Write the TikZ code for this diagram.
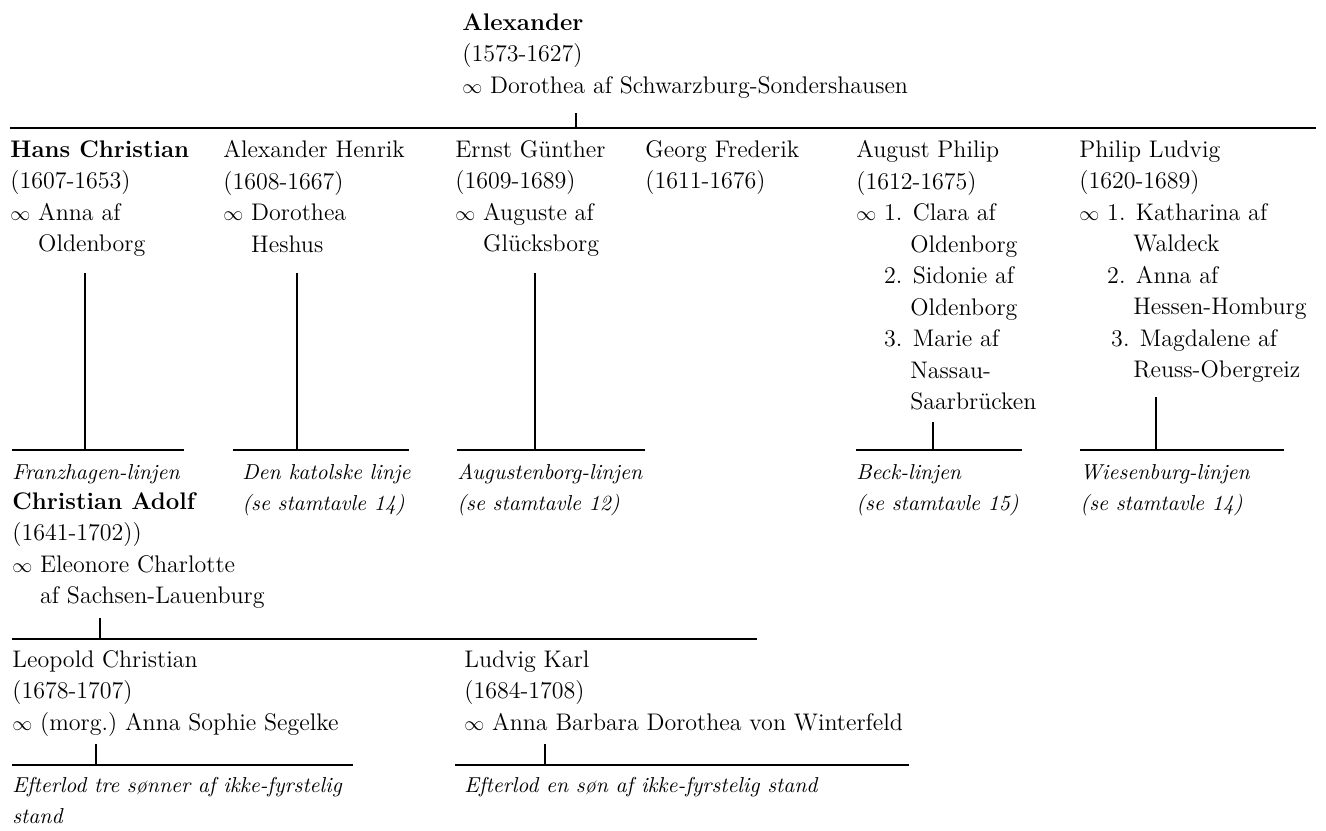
\documentclass[tikz,border=0pt]{standalone}
\usetikzlibrary{positioning}
\newcommand{\mrg}{{\fontsize{10}{10}\selectfont$\infty$}\ }
\newcommand{\mrgind}{\hphantom{\mrg}}
\newcommand{\mrgnum}{\hphantom{\mrg 1.\ }}
\begin{document}
\begin{tikzpicture}[x=0.5pt, y=-0.5pt,
person/.style={anchor=north west, inner sep=0pt, align=left, font=\fontsize{12}{15.75}\selectfont},
branch/.style={anchor=north west, inner sep=0pt, align=left, font=\fontsize{10.8}{15.5}\selectfont\itshape},
bar/.style={line width=1.4pt},
drop/.style={line width=0.9pt}]
\useasboundingbox (0,0) rectangle (1326,830);
\node (A) [person] at (462,13) {\textbf{Alexander}\\(1573-1627)\\\mrg Dorothea af Schwarzburg-Sondershausen};
\node (HC) [person] at (10,140) {\textbf{Hans Christian}\\(1607-1653)\\\mrg Anna af\\\mrgind Oldenborg};
\node (AH) [person] at (223,140) {Alexander Henrik\\(1608-1667)\\\mrg Dorothea\\\mrgind Heshus};
\node (EG) [person] at (455,140) {Ernst Günther\\(1609-1689)\\\mrg Auguste af\\\mrgind Glücksborg};
\node (GF) [person] at (645,140) {Georg Frederik\\(1611-1676)};
\node (AP) [person] at (856,140) {August Philip\\(1612-1675)\\\mrg 1. Clara af\\\mrgnum Oldenborg\\\mrgind 2. Sidonie af\\\mrgnum Oldenborg\\\mrgind 3. Marie af\\\mrgnum Nassau-\\\mrgnum Saarbrücken};
\node (PL) [person] at (1079,140) {Philip Ludvig\\(1620-1689)\\\mrg 1. Katharina af\\\mrgnum Waldeck\\\mrgind 2. Anna af\\\mrgnum Hessen-Homburg\\\mrgind\hspace{2pt}3. Magdalene af\\\mrgnum Reuss-Obergreiz};
\node (F) [branch] at (12,464) {Franzhagen-linjen};
\node (CA) [person] at (12,492) {\textbf{Christian Adolf}\\(1641-1702))\\\mrg Eleonore Charlotte\\\mrgind af Sachsen-Lauenburg};
\node (DK) [branch] at (242,464) {Den katolske linje\\(se stamtavle 14)};
\node (AU) [branch] at (457,464) {Augustenborg-linjen\\(se stamtavle 12)};
\node (BL) [branch] at (856,464) {Beck-linjen\\(se stamtavle 15)};
\node (WL) [branch] at (1080,464) {Wiesenburg-linjen\\(se stamtavle 14)};
\node (LC) [person] at (12,650) {Leopold Christian\\(1678-1707)\\\mrg (morg.)\ Anna Sophie Segelke};
\node (LK) [person] at (464,650) {Ludvig Karl\\(1684-1708)\\\mrg Anna Barbara Dorothea von Winterfeld};
\node (E1) [branch] at (12,777) {Efterlod tre sønner af ikke-fyrstelig\\stand};
\node (E2) [branch] at (464,777) {Efterlod en søn af ikke-fyrstelig stand};
\coordinate (T1) at (10,128); \coordinate (T2) at (1316,128); \coordinate (TS) at (576,113);
\draw[bar] (T1) -- (T2);
\draw[drop] (TS) -- (TS |- T1);
\coordinate (F1) at (12,450); \coordinate (F2) at (184,450);
\coordinate (K1) at (233,450); \coordinate (K2) at (409,450);
\coordinate (U1) at (457,450); \coordinate (U2) at (645,450);
\coordinate (B1) at (856,450); \coordinate (B2) at (1022,450);
\coordinate (W1) at (1080,450); \coordinate (W2) at (1284,450);
\draw[bar] (F1) -- (F2);
\draw[bar] (K1) -- (K2);
\draw[bar] (U1) -- (U2);
\draw[bar] (B1) -- (B2);
\draw[bar] (W1) -- (W2);
\coordinate (HCd) at (85,273); \coordinate (AHd) at (297,273); \coordinate (EGd) at (535,273);
\coordinate (APd) at (933,422); \coordinate (PLd) at (1156,397);
\draw[drop] (HCd) -- (HCd |- F1);
\draw[drop] (AHd) -- (AHd |- K1);
\draw[drop] (EGd) -- (EGd |- U1);
\draw[drop] (APd) -- (APd |- B1);
\draw[drop] (PLd) -- (PLd |- W1);
\coordinate (C1) at (12,639); \coordinate (C2) at (757,639); \coordinate (CAd) at (100,618);
\draw[bar] (C1) -- (C2);
\draw[drop] (CAd) -- (CAd |- C1);
\coordinate (L1) at (12,765); \coordinate (L2) at (353,765); \coordinate (LCd) at (96,744);
\coordinate (M1) at (455,765); \coordinate (M2) at (909,765); \coordinate (LKd) at (545,744);
\draw[bar] (L1) -- (L2);
\draw[bar] (M1) -- (M2);
\draw[drop] (LCd) -- (LCd |- L1);
\draw[drop] (LKd) -- (LKd |- M1);
\end{tikzpicture}
\end{document}
